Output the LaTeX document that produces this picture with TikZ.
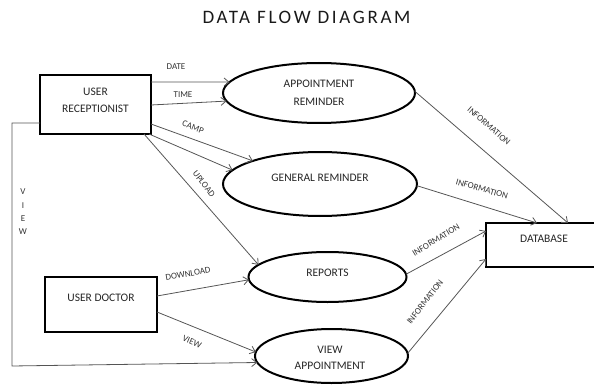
\documentclass[tikz,border=0pt]{standalone}
\usepackage{fontspec}
\setmainfont{Carlito}
\usetikzlibrary{arrows.meta,shapes.geometric,calc}

\definecolor{flowgray}{HTML}{555555}
\definecolor{labgray}{HTML}{333333}

\begin{document}
\begin{tikzpicture}[x=1pt,y=-1pt,
  entity/.style={draw=black,line width=2.4pt,rectangle,inner sep=0pt,outer sep=0pt},
  process/.style={draw=black,line width=2pt,ellipse,inner sep=0pt,outer sep=0pt},
  txt/.style={font=\fontsize{11.5}{17}\selectfont,text=black!85,align=center,inner sep=0pt},
  flow/.style={draw=flowgray,line width=0.8pt,-{Straight Barb[length=5pt,width=8pt]}},
  lab/.style={font=\fontsize{9}{10}\selectfont,text=labgray,inner sep=0pt},
]
\useasboundingbox (0,0) rectangle (594,385);
\clip (0,0) rectangle (594,385);

% title
\node[font=\fontsize{19}{21}\selectfont\addfontfeatures{LetterSpace=14},text=black!90] (title) at (306.5,17) {DATA FLOW DIAGRAM};

% external entities and the data store
\node[entity,minimum width=111pt,minimum height=59pt] (rec) at (95.5,104.5) {};
\node[txt] (recT) at (95.5,100) {USER\\RECEPTIONIST};
\node[entity,minimum width=112pt,minimum height=55pt] (doc) at (101,304.5) {};
\node[txt] (docT) at (101,298) {USER DOCTOR};
\node[entity,minimum width=116pt,minimum height=44pt] (db) at (544,245) {};
\node[txt] (dbT) at (544,239) {DATABASE};

% processes
\node[process,minimum width=192pt,minimum height=60pt] (ar) at (319,93) {};
\node[txt,font=\fontsize{11.5}{18}\selectfont] (arT) at (319,93) {APPOINTMENT\\REMINDER};
\node[process,minimum width=194pt,minimum height=64pt] (gr) at (320,184) {};
\node[txt] (grT) at (320,178) {GENERAL REMINDER};
\node[process,minimum width=158pt,minimum height=50pt] (rep) at (327.5,277) {};
\node[txt] (repT) at (327.5,273) {REPORTS};
\node[process,minimum width=153pt,minimum height=54pt] (va) at (331.5,356) {};
\node[txt,font=\fontsize{11.5}{16}\selectfont] (vaT) at (330,358) {VIEW\\APPOINTMENT};

% receptionist flows
\draw[flow] ([yshift=22.5pt]rec.east) -- (ar.173);
\node[lab] (lDate) at (176,67) {DATE};
\draw[flow] ([yshift=-0.5pt]rec.east) -- (ar.185.7);
\node[lab] (lTime) at (183,95) {TIME};
\draw[flow] ([yshift=-19.5pt]rec.east) -- (gr.161.8);
\node[lab,rotate=-21] (lCamp) at (193,127) {CAMP};
\draw[flow] ([xshift=-2pt]rec.south east) -- (gr.171.8);
\draw[flow] ([xshift=-7pt]rec.south east) -- (rep.170.6);
\node[lab,rotate=-52] (lUpload) at (204,184) {UPLOAD};

% view path round the left side
\coordinate (vbend) at (12,366);
\draw[flow] ([yshift=-18.5pt]rec.west) -| (vbend) -- (va.185.2);
\node[lab,align=center,font=\fontsize{9}{13.3}\selectfont] (lView) at (23,212) {V\\I\\E\\W};

% doctor flows
\draw[flow] ([yshift=8.5pt]doc.east) -- (rep.182.9);
\node[lab,rotate=10] (lDown) at (188,274) {DOWNLOAD};
\draw[flow] ([yshift=-7.5pt]doc.east) -- (va.177);
\node[lab,rotate=-23] (lView2) at (192,342) {VIEW};

% information into the database
\draw[flow] (ar.1) -- ([xshift=24pt]db.north);
\node[lab,rotate=-41] (lInf1) at (489,126) {INFORMATION};
\draw[flow] (gr.-1) -- ([xshift=-7pt]db.north);
\node[lab,rotate=-16] (lInf2) at (482,189) {INFORMATION};
\draw[flow] (rep.2) -- ([yshift=14pt]db.west);
\node[lab,rotate=31] (lInf3) at (436,240) {INFORMATION};
\draw[flow] (va.2) -- ([yshift=-14pt]db.west);
\node[lab,rotate=52] (lInf4) at (425,302) {INFORMATION};
\end{tikzpicture}
\end{document}
